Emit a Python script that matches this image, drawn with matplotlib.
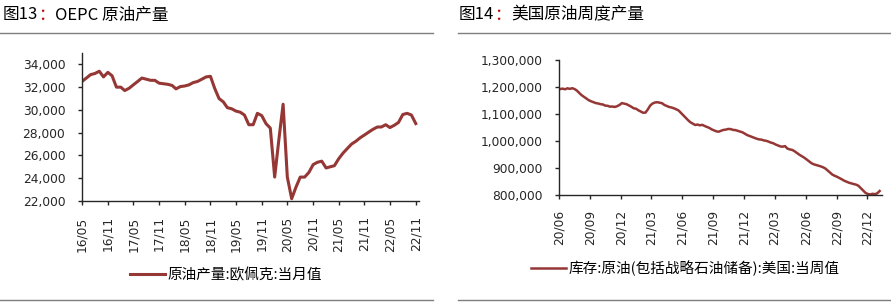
import matplotlib
matplotlib.use("Agg")
import matplotlib.pyplot as plt
import matplotlib.dates as mdates
from matplotlib.lines import Line2D
import pandas as pd

plt.rcParams['font.family'] = ['DejaVu Sans', 'Noto Sans CJK SC']
CJK = ['Noto Sans CJK SC', 'DejaVu Sans']

# OPEC crude output, monthly from 2016/05 (thousand barrels/day)
opec_start = '2016-05-01'
opec_output = [32500, 32800, 33100, 33200, 33400, 32900, 33300, 33000, 32000, 32000,
               31700, 31900, 32200, 32500, 32800, 32700, 32600, 32600, 32350, 32300,
               32250, 32150, 31850, 32050, 32100, 32200, 32400, 32500, 32700, 32900,
               32950, 31900, 31000, 30700, 30200, 30100, 29900, 29800, 29550, 28700,
               28700, 29700, 29500, 28800, 28400, 24100, 27300, 30500, 24100, 22200,
               23200, 24100, 24100, 24500, 25200, 25400, 25500, 24900, 25000, 25100,
               25700, 26200, 26600, 27000, 27250, 27550, 27800, 28050, 28300, 28500,
               28500, 28700, 28450, 28650, 28900, 29600, 29700, 29550, 28800]
opec_label = '原油产量:欧佩克:当月值'
opec_title = ['图13', '：', 'OEPC 原油产量']

# US crude stocks incl. SPR, weekly from 2020-06-05 (thousand barrels)
us_start = '2020-06-05'
us_stock = [1192600, 1194000, 1191500, 1195200, 1193000, 1195600, 1192400, 1186700, 1177800, 1169700,
            1163400, 1157100, 1151100, 1147100, 1143700, 1140400, 1138900, 1136400, 1135200, 1131000,
            1130400, 1127200, 1127700, 1126100, 1128900, 1133400, 1140400, 1138500, 1136300, 1131500,
            1127000, 1121200, 1119500, 1113700, 1109200, 1104600, 1105200, 1117100, 1131500, 1138900,
            1142600, 1143700, 1141900, 1139900, 1133400, 1129900, 1126000, 1124100, 1121100, 1117400,
            1113000, 1104100, 1094800, 1085900, 1077100, 1069300, 1064100, 1059300, 1061000, 1058000,
            1059900, 1055600, 1051900, 1048400, 1043000, 1039300, 1035600, 1034500, 1038200, 1041100,
            1042200, 1044700, 1044100, 1041200, 1040400, 1037800, 1035200, 1032200, 1027100, 1021900,
            1018500, 1014800, 1011900, 1008500, 1005900, 1005100, 1002200, 1000800, 997800, 994100,
            991800, 987100, 983700, 980000, 978900, 981100, 971900, 968900, 967100, 962200,
            955900, 949600, 944100, 938900, 932600, 925600, 918900, 914100, 911500, 909300,
            906300, 903000, 898500, 890700, 883000, 875600, 871100, 867400, 863000, 858200,
            853000, 849300, 845600, 843000, 840700, 838500, 834400, 825600, 817000, 808100,
            803700, 802000, 804500, 803000, 806300, 814800]
us_label = '库存:原油(包括战略石油储备):美国:当周值'
us_title = ['图14', '：', '美国原油周度产量']

LINE = '#953735'
DARK = '#262626'

opec_dates = pd.date_range(opec_start, periods=len(opec_output), freq='MS')
us_dates = pd.date_range(us_start, periods=len(us_stock), freq='7D')

fig = plt.figure(figsize=(8.91, 3.03), dpi=100)


def style_axes(ax):
    for s in ['top', 'right']:
        ax.spines[s].set_visible(False)
    for s in ['left', 'bottom']:
        ax.spines[s].set_color(DARK)
        ax.spines[s].set_linewidth(1.0)
    ax.tick_params(axis='y', direction='out', length=3, width=1, color=DARK,
                   labelsize=8.8, labelcolor=DARK, pad=9)
    ax.tick_params(axis='x', direction='out', length=3, width=1, color=DARK,
                   labelsize=8.8, labelcolor=DARK, pad=8, labelrotation=90)
    ax.xaxis.set_major_formatter(mdates.DateFormatter('%y/%m'))
    ax.yaxis.set_major_formatter(matplotlib.ticker.FuncFormatter(lambda v, p: f'{v:,.0f}'))


def title(x, y, parts):
    t1 = fig.text(x, y, parts[0], family=CJK, fontsize=12, color='black', va='center')
    t2 = plt.annotate(parts[1], xy=(1, 0.5), xycoords=t1, va='center', ha='left',
                      family=CJK, fontsize=12, color='#c00000', annotation_clip=False)
    plt.annotate(parts[2], xy=(1, 0.5), xycoords=t2, va='center', ha='left',
                 family=CJK, fontsize=12, color='black', annotation_clip=False)


# ---- left panel
ax1 = fig.add_axes([82 / 891, (303 - 201) / 303, (419 - 82) / 891, (201 - 53) / 303])
l1, = ax1.plot(opec_dates, opec_output, color=LINE, lw=2.2)
ax1.set_ylim(22000, 35000)
ax1.set_yticks(range(22000, 34001, 2000))
ax1.set_xticks(pd.date_range('2016-05-01', '2022-11-01', freq='6MS'))
ax1.set_xlim(opec_dates[0], pd.Timestamp('2022-11-24'))
style_axes(ax1)

# ---- right panel
ax2 = fig.add_axes([559 / 891, (303 - 195) / 303, (882 - 559) / 891, (195 - 60) / 303])
l2, = ax2.plot(us_dates, us_stock, color=LINE, lw=1.8)
ax2.set_ylim(800000, 1300000)
ax2.set_yticks(range(800000, 1300001, 100000))
ax2.set_xticks(pd.date_range('2020-06-01', '2022-12-01', freq='3MS'))
ax2.set_xlim(pd.Timestamp('2020-06-01'), pd.Timestamp('2023-01-13'))
style_axes(ax2)

# titles and rules
title(3 / 891, 1 - 15 / 303, opec_title)
title(459 / 891, 1 - 15 / 303, us_title)
for x0, x1 in [(0, 433), (458, 891)]:
    for yy in [33, 300]:
        fig.add_artist(Line2D([x0 / 891, x1 / 891], [1 - yy / 303, 1 - yy / 303],
                              color='#7f7f7f', lw=1.0))

# legends
fig.legend([l1], [opec_label], loc='center', bbox_to_anchor=(226 / 891, 1 - 275 / 303),
           frameon=False, prop={'family': CJK, 'size': 10.5}, handlelength=2.4,
           handletextpad=0.2, borderpad=0)
fig.legend([l2], [us_label], loc='center', bbox_to_anchor=(685 / 891, 1 - 268 / 303),
           frameon=False, prop={'family': CJK, 'size': 10.5}, handlelength=2.4,
           handletextpad=0.2, borderpad=0)

fig.savefig('out.png', dpi=100)
